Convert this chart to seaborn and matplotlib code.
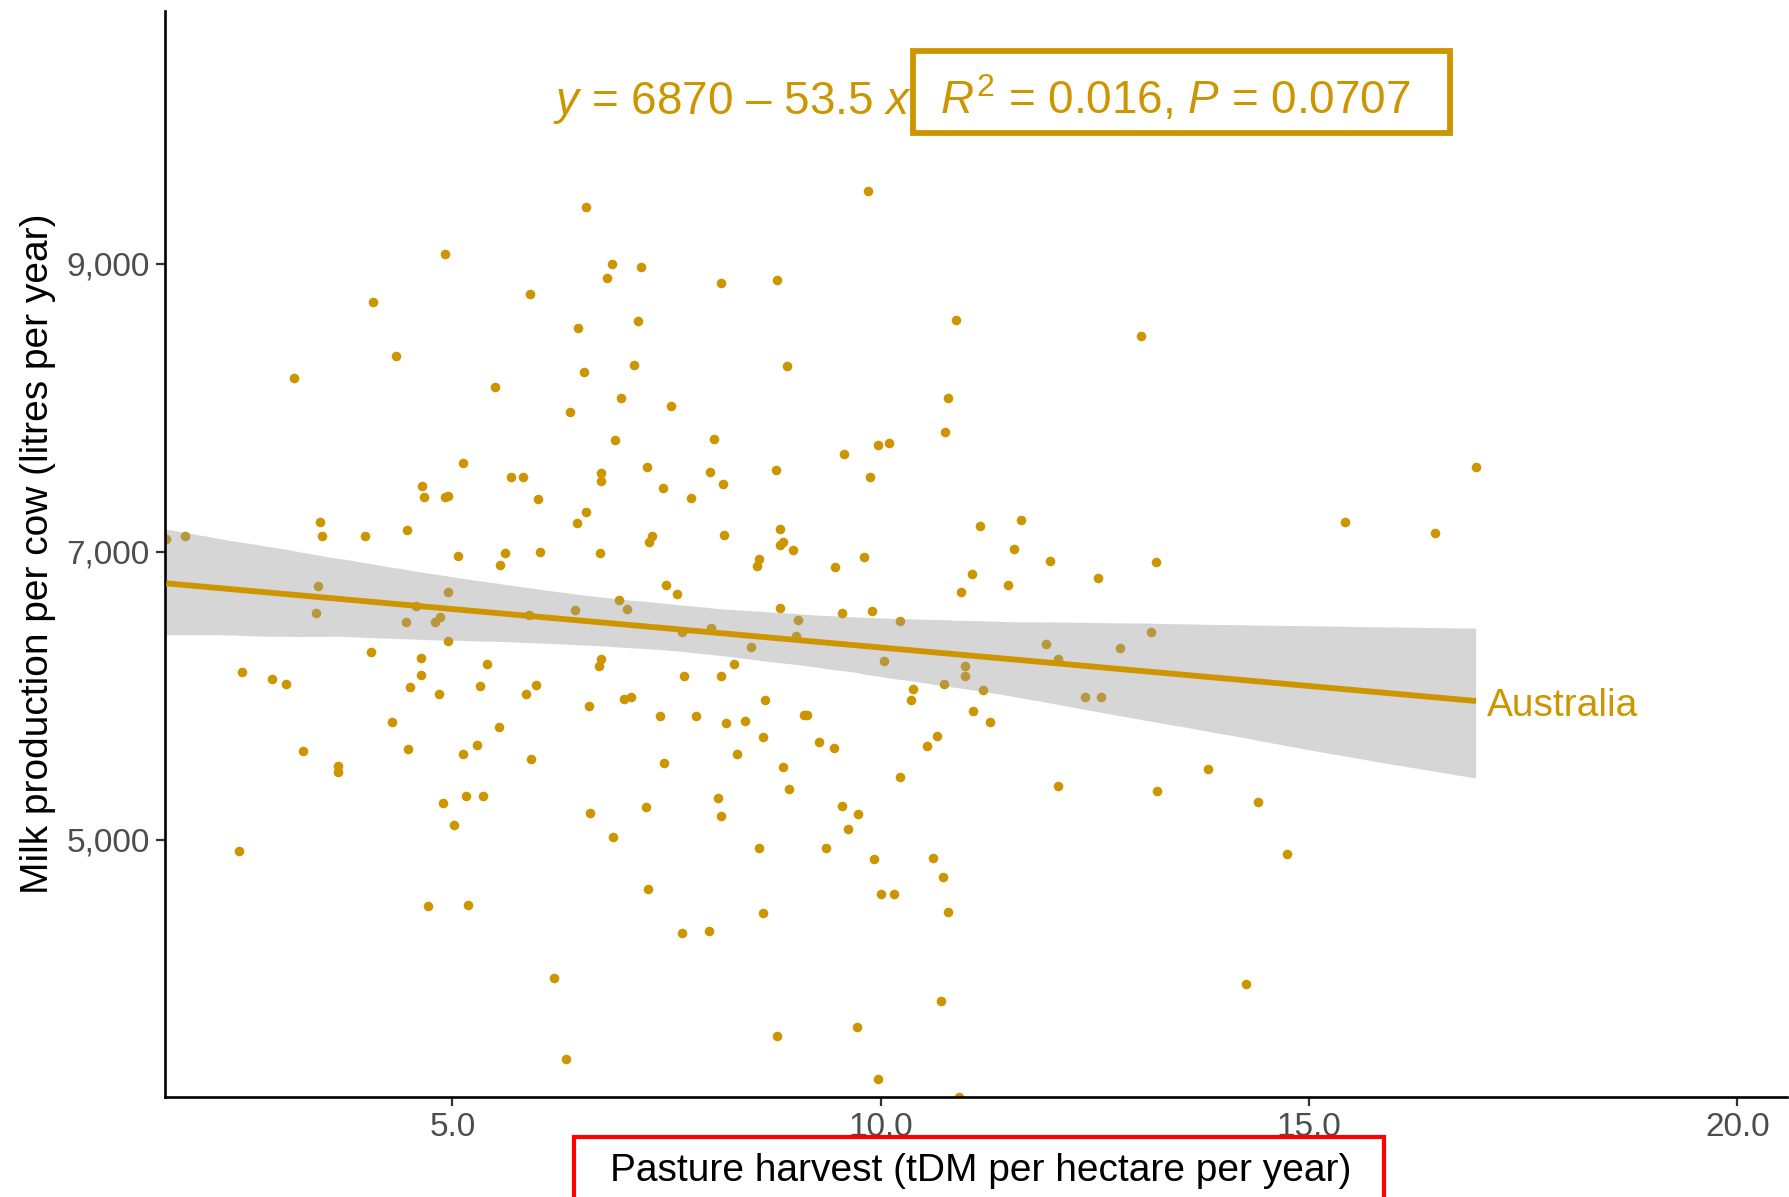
import numpy as np
import pandas as pd
import matplotlib
matplotlib.use("Agg")
import matplotlib.pyplot as plt
import matplotlib.patches as mpatches
from matplotlib.ticker import FuncFormatter
import seaborn as sns

# ---------------- data ----------------
pasture_harvest = [
    1.66, 1.88, 2.51, 2.54, 2.89, 3.06, 3.15, 3.25, 3.41, 3.43, 3.45, 3.48, 3.66, 3.66,
    3.98, 4.05, 4.07, 4.29, 4.34, 4.46, 4.47, 4.48, 4.51, 4.57, 4.63, 4.63, 4.65, 4.67,
    4.71, 4.80, 4.84, 4.86, 4.89, 4.91, 4.91, 4.95, 4.95, 4.95, 5.02, 5.07, 5.12, 5.12,
    5.16, 5.18, 5.29, 5.32, 5.36, 5.40, 5.50, 5.54, 5.56, 5.61, 5.68, 5.82, 5.86, 5.90,
    5.89, 5.92, 5.97, 6.00, 6.02, 6.19, 6.33, 6.37, 6.43, 6.45, 6.47, 6.54, 6.56, 6.56,
    6.60, 6.61, 6.71, 6.72, 6.73, 6.73, 6.74, 6.80, 6.86, 6.87, 6.90, 6.94, 6.97, 7.00,
    7.04, 7.08, 7.12, 7.17, 7.20, 7.26, 7.27, 7.28, 7.30, 7.33, 7.42, 7.46, 7.47, 7.49,
    7.55, 7.62, 7.68, 7.68, 7.70, 7.78, 7.84, 7.99, 8.01, 8.02, 8.05, 8.10, 8.13, 8.14,
    8.14, 8.16, 8.17, 8.19, 8.29, 8.32, 8.42, 8.49, 8.55, 8.58, 8.58, 8.62, 8.62, 8.65,
    8.78, 8.79, 8.79, 8.82, 8.82, 8.82, 8.86, 8.86, 8.90, 8.93, 8.98, 9.01, 9.04, 9.11,
    9.14, 9.28, 9.36, 9.45, 9.47, 9.55, 9.55, 9.57, 9.62, 9.72, 9.74, 9.80, 9.85, 9.88,
    9.90, 9.92, 9.97, 9.97, 10.04, 10.00, 10.10, 10.16, 10.22, 10.23, 10.35, 10.38, 10.54,
    10.61, 10.66, 10.73, 10.74, 10.70, 10.75, 10.79, 10.79, 10.88, 10.91, 10.94, 10.98,
    10.98, 11.06, 11.08, 11.16, 11.19, 11.27, 11.48, 11.56, 11.64, 11.93, 11.98, 12.07,
    12.07, 12.38, 12.54, 12.57, 12.79, 13.04, 13.15, 13.21, 13.23, 13.82, 14.26, 14.40,
    14.74, 15.42, 16.47, 16.95,
]
milk_per_cow = [
    7090, 7111, 4922, 6165, 6116, 6081, 8208, 5614, 6575, 6762, 7205, 7111, 5514, 5468,
    7113, 6304, 8736, 5815, 8364, 6510, 7149, 5630, 6058, 6621, 6266, 6146, 7458, 7380,
    4540, 6510, 6012, 6551, 5255, 9072, 7383, 7389, 6724, 6384, 5105, 6972, 7617, 5596,
    5306, 4544, 5658, 6065, 5301, 6224, 8147, 5783, 6911, 6991, 7517, 7517, 6012, 8792,
    6563, 5564, 6076, 7367, 7000, 4042, 3480, 7973, 6595, 7199, 8554, 8248, 7276, 9399,
    5930, 5186, 6204, 6995, 7551, 7490, 6259, 8900, 8998, 5016, 7775, 6663, 8072, 5976,
    6600, 5995, 8298, 8605, 8982, 5227, 7593, 4660, 7067, 7111, 5861, 7442, 5533, 6771,
    8014, 6706, 6444, 4352, 6141, 7372, 5857, 4366, 7555, 6470, 7784, 5287, 5167, 8871,
    6135, 7472, 7116, 5810, 6220, 5596, 5824, 6342, 6903, 6949, 4945, 4491, 5711, 5970,
    7567, 8889, 3634, 7158, 6613, 7049, 7072, 5503, 8292, 5354, 7010, 6417, 6528, 5870,
    5870, 5676, 4940, 5637, 6896, 6575, 5232, 7680, 5072, 3702, 5181, 6965, 9510, 7523,
    6588, 4866, 3336, 7739, 6239, 4623, 7759, 4623, 6523, 5433, 5972, 6044, 5651, 4877,
    5720, 4744, 6081, 3882, 7834, 8072, 4496, 8611, 3214, 6724, 6206, 6135, 6848, 5894,
    7183, 6040, 5815, 6771, 7018, 7220, 6361, 6940, 6255, 5375, 5991, 6817, 5991, 6333,
    8500, 6444, 6930, 5336, 5493, 3998, 5263, 4900, 7205, 7133, 7593,
]
country = "Australia"
x_ticks = [5, 10, 15, 20]
y_ticks = [5000, 7000, 9000]
x_title = "Pasture harvest (tDM per hectare per year)"
y_title = "Milk production per cow (litres per year)"
eq_label = r"$\mathit{y}$ = 6870 – 53.5 $\mathit{x}$"
stat_label = r"$\mathit{R}^{2}$ = 0.016, $\mathit{P}$ = 0.0707"

GOLD = "#CD9600"

# ---------------- style ----------------
sns.set_theme(style="ticks")
plt.rcParams["font.family"] = ["Liberation Sans", "DejaVu Sans"]
plt.rcParams["mathtext.fontset"] = "custom"
plt.rcParams["mathtext.rm"] = "Liberation Sans"
plt.rcParams["mathtext.it"] = "Liberation Sans:italic"
plt.rcParams["mathtext.bf"] = "Liberation Sans:bold"

fig = plt.figure(figsize=(17.89, 11.97), dpi=100)
fig.patch.set_facecolor("white")
ax = fig.add_axes([0.0922, 0.0835, 0.9067, 0.9073])
ax.set_facecolor("white")

df = pd.DataFrame({"pasture": pasture_harvest, "milk": milk_per_cow})

sns.regplot(
    data=df, x="pasture", y="milk", ax=ax, color=GOLD,
    ci=95, n_boot=2000, seed=3,
    scatter_kws=dict(s=48, linewidths=0, alpha=1, zorder=1),
    line_kws=dict(lw=4.2, solid_capstyle="butt", zorder=3),
)
# ggplot-like grey confidence ribbon drawn over the points
for coll in ax.collections[1:]:
    coll.set_facecolor("#999999")
    coll.set_alpha(0.4)
    coll.set_edgecolor("none")
    coll.set_zorder(2)

ax.set_xlim(1.644, 20.58)
ax.set_ylim(3213, 10757)
ax.set_xticks(x_ticks)
ax.set_yticks(y_ticks)
ax.xaxis.set_major_formatter(FuncFormatter(lambda v, p: f"{v:.1f}"))
ax.yaxis.set_major_formatter(FuncFormatter(lambda v, p: f"{int(v):,}"))
ax.tick_params(length=6.5, width=1.6, color="#333333", labelsize=24,
               labelcolor="#4D4D4D", pad=4.5)
sns.despine(ax=ax)
for side in ("left", "bottom"):
    ax.spines[side].set_linewidth(1.9)
    ax.spines[side].set_color("black")
ax.set_xlabel("")
ax.set_ylabel("")
ax.grid(False)

# axis titles
fig.text(0.548, 0.0215, x_title, ha="center", va="center", fontsize=28, color="black")
fig.text(0.021, 0.537, y_title, ha="center", va="center", rotation=90,
         fontsize=28, color="black")

# red box around the x title
fig.add_artist(mpatches.Rectangle((0.3208, -0.01), 0.4528, 0.0605,
                                  transform=fig.transFigure, fill=False,
                                  ec="#FF0000", lw=3.0, clip_on=False))

# equation and statistics
fig.text(0.309, 0.905, eq_label, ha="left", va="baseline", fontsize=33, color=GOLD)
fig.text(0.657, 0.905, stat_label, ha="center", va="baseline", fontsize=33, color=GOLD)
fig.add_artist(mpatches.Rectangle((0.5103, 0.8889), 0.300, 0.0685,
                                  transform=fig.transFigure, fill=False,
                                  ec=GOLD, lw=4.2))

# country label at the end of the fitted line
xs = np.array(pasture_harvest)
ys = np.array(milk_per_cow)
slope, intercept = np.polyfit(xs, ys, 1)
x_end = xs.max()
ax.annotate(country, xy=(x_end, intercept + slope * x_end), xytext=(8, -3.5),
            textcoords="offset points", ha="left", va="center",
            fontsize=28, color=GOLD, annotation_clip=False)

fig.savefig("out.png", dpi=100, facecolor="white")
